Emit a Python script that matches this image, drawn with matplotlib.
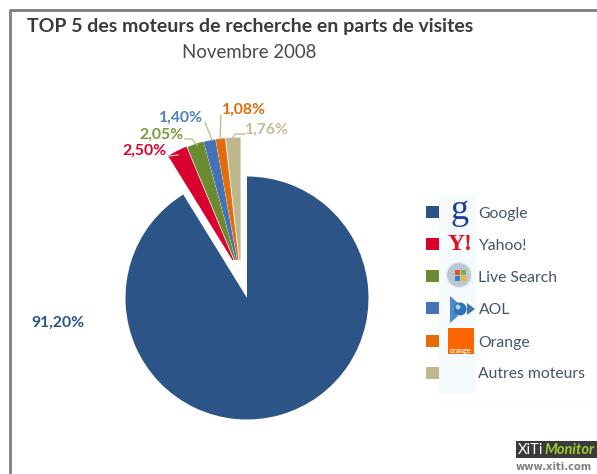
import matplotlib
matplotlib.use('Agg')
import matplotlib.pyplot as plt
from matplotlib.patches import Rectangle, Circle, Polygon

plt.rcParams['font.family'] = ['Lato', 'DejaVu Sans']

moteurs = ['Google', 'Yahoo!', 'Live Search', 'AOL', 'Orange', 'Autres moteurs']
parts = [91.20, 2.50, 2.05, 1.40, 1.08, 1.76]
etiquettes = ['91,20%', '2,50%', '2,05%', '1,40%', '1,08%', '1,76%']
couleurs = ['#2C5487', '#D9002F', '#6C8A2F', '#4472B4', '#E36C09', '#BDB78E']
couleurs_txt = ['#2C5487', '#D9002F', '#7A9A3A', '#4F81BD', '#E36C09', '#C4BD97']

W, H = 597, 474


def Y(y):
    return H - y


fig = plt.figure(figsize=(W / 100, H / 100), dpi=100)
ax = fig.add_axes([0, 0, 1, 1])

wedges, _ = ax.pie(parts, colors=couleurs, startangle=90, counterclock=False,
                   center=(247, Y(298)), radius=121.5, frame=False,
                   wedgeprops={'linewidth': 0})
ax.set_xlim(0, W)
ax.set_ylim(0, H)
ax.set_aspect('equal')
ax.axis('off')

# les petites parts sont detachees vers le haut
centres_x = [233, 235, 236.5, 238, 240]
for w, cx, c in zip(wedges[1:], centres_x, couleurs[1:]):
    w.set_center((cx, Y(260)))
    w.set_radius(122)
    w.set_edgecolor(c)
    w.set_linewidth(0.8)

# cadre gris
ax.plot([10, 10, W], [0, Y(10), Y(10)], color='#7F7F7F', lw=2, solid_capstyle='butt')

# titres
ax.text(27, Y(26), 'TOP 5 des moteurs de recherche en parts de visites', fontsize=14,
        fontweight='bold', color='#3B3B3B', va='center', ha='left')
ax.text(249, Y(52), 'Novembre 2008', fontsize=13.4, color='#4A4A4A', va='center', ha='center')

# etiquettes des parts
pos_txt = [(58, 323), (144, 151), (161, 135), (181, 118), (244, 110), (267, 130)]
for i, (lab, (x, y)) in enumerate(zip(etiquettes, pos_txt)):
    ax.text(x, Y(y), lab, fontsize=11.3, fontweight='bold', color=couleurs_txt[i],
            va='center', ha='center')

# filets
filets = [[(169, 156), (178, 155)],
          [(185, 139), (192, 139), (197, 145)],
          [(205, 122), (212, 140)],
          [(221, 115), (220, 139)],
          [(245, 134), (235, 134), (232, 139)]]
for f in filets:
    ax.plot([p[0] for p in f], [Y(p[1]) for p in f], color='#C4BD97', lw=1)

# legende
lignes = [212, 244, 276, 308, 341, 373]
ax.add_patch(Rectangle((439, Y(394)), 37, 199, color='#F5FBFC', lw=0))
ax.add_patch(Rectangle((442, Y(401)), W - 442, 1, color='#F5FBFC', lw=0))
for nom, c, y in zip(moteurs, couleurs, lignes):
    ax.add_patch(Rectangle((426, Y(y) - 6), 13, 12, color=c, lw=0))
    ax.text(478.5, Y(y) - 1.5, nom, fontsize=11.3, color='#44546A', va='center', ha='left')

# logos (approximatifs)
ax.text(460, Y(210), 'g', fontsize=26, family='Liberation Serif', color='#1F3F9A',
        ha='center', va='center')
ax.text(460, Y(244), 'Y!', fontsize=17, family='Liberation Serif', color='#E0101E',
        ha='center', va='center', fontweight='bold')
ax.add_patch(Circle((459, Y(275)), 12.5, facecolor='#B9C9D4', edgecolor='#E6EAEC', lw=1))
for dx, dy, c in [(-3, 3, '#E2532A'), (3, 3, '#7FB23A'), (-3, -3, '#3A7CC8'), (3, -3, '#F0B62B')]:
    ax.add_patch(Rectangle((460 + dx - 2.5, Y(275) + dy - 2.5), 5, 5, color=c, lw=0))
ax.add_patch(Polygon([(450, Y(296)), (458, Y(303)), (453, Y(309)), (458, Y(316)), (450, Y(323))],
                     color='#4F88C6', lw=0))
ax.add_patch(Polygon([(467, Y(303)), (475, Y(309)), (467, Y(315))], color='#3B78B8', lw=0))
ax.add_patch(Circle((460, Y(309)), 6.5, color='#2E6FB5', lw=0))
ax.add_patch(Circle((458, Y(307)), 2.5, color='#A9D3F0', lw=0))
ax.add_patch(Rectangle((448, Y(354)), 26, 26, color='#FF6600', lw=0))
ax.text(461, Y(351), 'orange', fontsize=5, color='white', ha='center', va='center', fontweight='bold')

# marque XiTi
ax.add_patch(Rectangle((516, Y(458)), W - 516, 17, color='#3A3A3A', lw=0))
ax.text(518, Y(450), 'XiTi', fontsize=10.5, color='white', va='center', ha='left')
ax.text(544, Y(450), 'Monitor', fontsize=10.5, color='#9ACD32', style='italic', va='center', ha='left',
        fontweight='bold')
ax.text(516, Y(467), 'www.xiti.com', fontsize=7.2, family='DejaVu Sans', color='#808080',
        va='center', ha='left', fontweight='bold')

fig.savefig('out.png', dpi=100, facecolor='white')
